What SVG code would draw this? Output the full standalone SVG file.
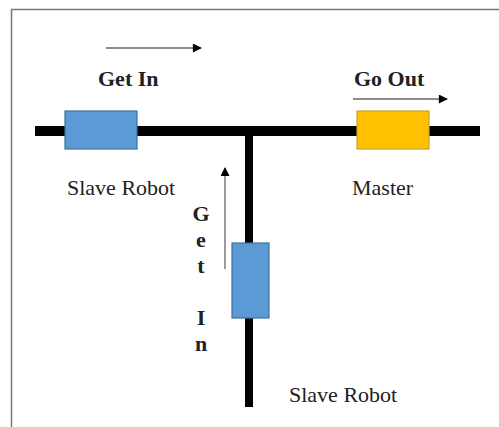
<svg xmlns="http://www.w3.org/2000/svg" width="499" height="427" viewBox="0 0 499 427">
<style>
.t{font-family:"Liberation Serif","Times New Roman",serif;font-size:22px;fill:#222}
.b{font-weight:bold}
.arr{stroke:#666;stroke-width:1.3;fill:none;marker-end:url(#ah)}
.blue{fill:#5b9bd5;stroke:#41719c;stroke-width:1.2}
.gold{fill:#ffc000;stroke:#c9a22a;stroke-width:1.2}
</style>
<defs>
<marker id="ah" viewBox="0 0 10 10" refX="9" refY="5" markerWidth="10" markerHeight="9" markerUnits="userSpaceOnUse" orient="auto">
<path d="M0,0L10,5L0,10z" fill="#000"/>
</marker>
</defs>
<rect width="499" height="427" fill="#fff"/>
<path d="M11.5,427V9.5H499" fill="none" stroke="#777" stroke-width="1.5"/>
<g id="connectors">
<line x1="35" y1="131" x2="480" y2="131" stroke="#000" stroke-width="10"/>
<line x1="249" y1="131" x2="249" y2="407" stroke="#000" stroke-width="8"/>
<line class="arr" x1="106" y1="48" x2="201" y2="48"/>
<line class="arr" x1="353" y1="99" x2="447" y2="99"/>
<line class="arr" x1="225" y1="269" x2="225" y2="168"/>
</g>
<g id="slave1">
<rect class="blue" x="65" y="111" width="72" height="38"/>
<text class="t" x="67" y="195">Slave Robot</text>
</g>
<g id="master">
<rect class="gold" x="357" y="111" width="72" height="38"/>
<text class="t" x="352" y="195">Master</text>
</g>
<g id="slave2">
<rect class="blue" x="232" y="243" width="37" height="75"/>
<text class="t" x="289" y="402">Slave Robot</text>
</g>
<g id="labels">
<text class="t b" x="98" y="86">Get In</text>
<text class="t b" x="354" y="86">Go Out</text>
<g class="t b" text-anchor="middle">
<text x="201" y="221">G</text>
<text x="201" y="247">e</text>
<text x="201" y="273">t</text>
<text x="201" y="325">I</text>
<text x="201" y="351">n</text>
</g>
</g>
</svg>
